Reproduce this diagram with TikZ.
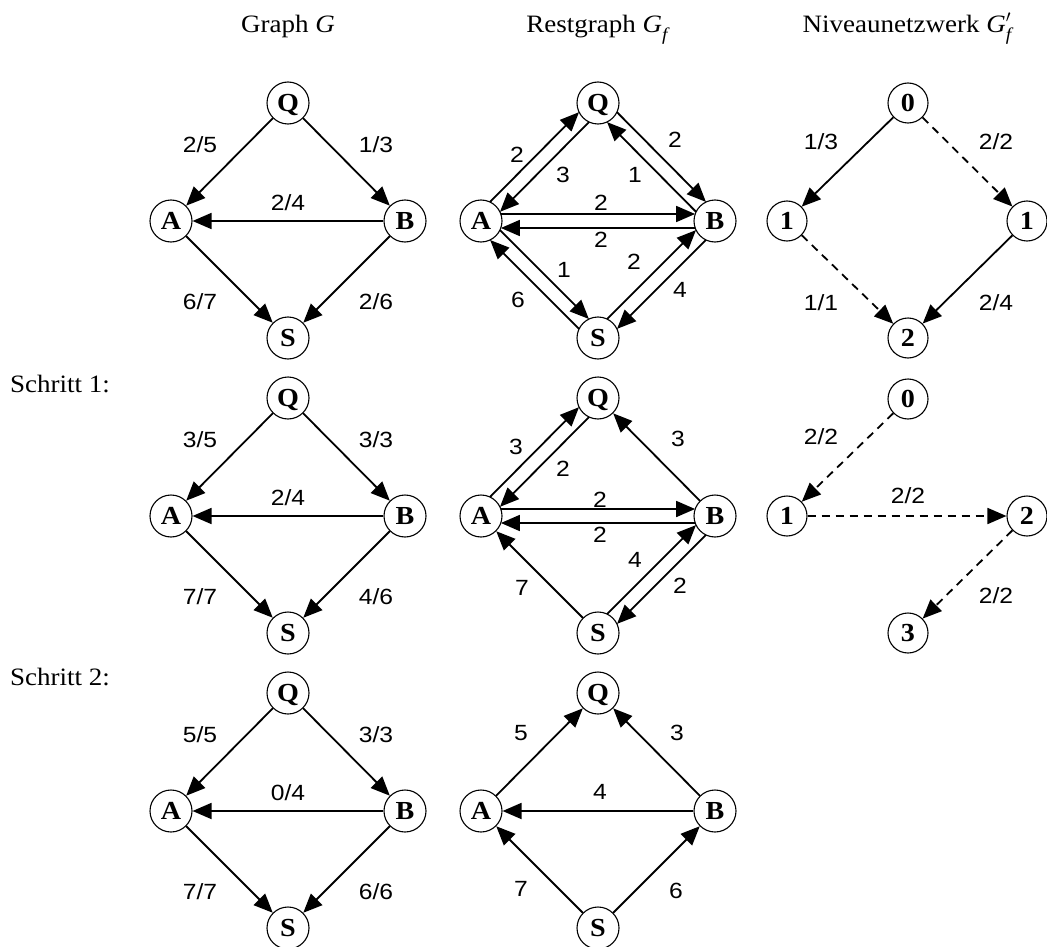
\documentclass[tikz,border=0pt]{standalone}
\usepackage{fontspec}
\setmainfont{Liberation Serif}
\newfontfamily\labfam{Liberation Sans}[FakeStretch=1.12]
\newfontfamily\ttlfam{Liberation Serif}[FakeStretch=1.08]
\newfontfamily\vtxfam{Liberation Serif}[FakeStretch=1.08]
\usetikzlibrary{arrows.meta,calc}

\tikzset{
  vtx/.style={circle, draw, line width=1.1pt, minimum size=42pt, inner sep=0pt,
    font=\vtxfam\bfseries\fontsize{26}{26}\selectfont, text height=17pt, text depth=0pt},
  nvx/.style={vtx, minimum size=40pt},
  lab/.style={inner sep=0pt, font=\labfam\fontsize{22}{22}\selectfont,
    text height=15.8pt, text depth=0pt},
  ttl/.style={inner sep=0pt, anchor=base, font=\ttlfam\fontsize{25}{25}\selectfont},
  edg/.style={line width=1.8pt, -{Triangle[length=19pt,width=16pt]}},
  dsh/.style={edg, dash pattern=on 8pt off 6pt},
  % one of two antiparallel arcs, shifted to the left of its direction
  par/.style={edg,
    to path={($(\tikztostart)!7pt!90:(\tikztotarget)$) -- ($(\tikztotarget)!7pt!-90:(\tikztostart)$)},
    shorten <=19.9pt, shorten >=19.9pt},
}

% flow network with flow/capacity labels
\newcommand\flowpanel[7]{%
  \begin{scope}[shift={(288,#2)}]
    \node[vtx] (#1Q) at (0,0) {Q};
    \node[vtx] (#1A) at (-117,118) {A};
    \node[vtx] (#1B) at (117,118) {B};
    \node[vtx] (#1S) at (0,235) {S};
    \draw[edg] (#1Q) -- (#1A);
    \draw[edg] (#1Q) -- (#1B);
    \draw[edg] (#1B) -- (#1A);
    \draw[edg] (#1A) -- (#1S);
    \draw[edg] (#1B) -- (#1S);
    \node[lab] (#1qa) at (-88,42) {#3};
    \node[lab] (#1qb) at (88,42) {#4};
    \node[lab] (#1ba) at (0,100) {#5};
    \node[lab] (#1as) at (-88,199) {#6};
    \node[lab] (#1bs) at (88,199) {#7};
  \end{scope}}

\newcommand\restnodes[2]{%
  \node[vtx] (#1Q) at (598,#2) {Q};
  \node[vtx] (#1A) at ($(598,#2)+(-117,118)$) {A};
  \node[vtx] (#1B) at ($(598,#2)+(117,118)$) {B};
  \node[vtx] (#1S) at ($(598,#2)+(0,235)$) {S};}

\begin{document}
\begin{tikzpicture}[x=1pt,y=-1pt]
\useasboundingbox (0,0) rectangle (1047,947);

% column headings
\node[ttl] (h1) at (288,33) {Graph \textit{G}};
\node[ttl] (h2) at (598,33) {Restgraph \textit{G}\raisebox{-0.3em}{\fontsize{18}{18}\selectfont\textit{f}}};
\node[ttl] (h3) at (908,33) {Niveaunetzwerk \textit{G}\rlap{\raisebox{0.05em}{$'$}}\raisebox{-0.3em}{\fontsize{18}{18}\selectfont\textit{f}}};

% step labels
\node[ttl, anchor=base west] (s1) at (10,392) {Schritt 1:};
\node[ttl, anchor=base west] (s2) at (10,685) {Schritt 2:};

% graph G
\flowpanel{ga}{103}{2/5}{1/3}{2/4}{6/7}{2/6}
\flowpanel{gb}{398}{3/5}{3/3}{2/4}{7/7}{4/6}
\flowpanel{gc}{693}{5/5}{3/3}{0/4}{7/7}{6/6}

% residual graph, start
\restnodes{ra}{103}
\draw[par] (raA) to (raQ);
\draw[par] (raQ) to (raA);
\draw[par] (raQ) to (raB);
\draw[par] (raB) to (raQ);
\draw[par] (raA) to (raB);
\draw[par] (raB) to (raA);
\draw[par] (raA) to (raS);
\draw[par] (raS) to (raA);
\draw[par] (raS) to (raB);
\draw[par] (raB) to (raS);
\begin{scope}[shift={(598,103)}]
  \node[lab] (ra1) at (-81,52) {2};
  \node[lab] (ra2) at (-35,72) {3};
  \node[lab] (ra3) at (77,37) {2};
  \node[lab] (ra4) at (37,72) {1};
  \node[lab] (ra5) at (3,100) {2};
  \node[lab] (ra6) at (3,137) {2};
  \node[lab] (ra7) at (-34,167) {1};
  \node[lab] (ra8) at (-80,197) {6};
  \node[lab] (ra9) at (36,159) {2};
  \node[lab] (ra10) at (82,187) {4};
\end{scope}

% residual graph after step 1
\restnodes{rb}{398}
\draw[par] (rbA) to (rbQ);
\draw[par] (rbQ) to (rbA);
\draw[edg] (rbB) -- (rbQ);
\draw[par] (rbA) to (rbB);
\draw[par] (rbB) to (rbA);
\draw[edg] (rbS) -- (rbA);
\draw[par] (rbS) to (rbB);
\draw[par] (rbB) to (rbS);
\begin{scope}[shift={(598,398)}]
  \node[lab] (rb1) at (-82,49) {3};
  \node[lab] (rb2) at (-35,71) {2};
  \node[lab] (rb3) at (80,41) {3};
  \node[lab] (rb4) at (2,102) {2};
  \node[lab] (rb5) at (2,137) {2};
  \node[lab] (rb6) at (-76,190) {7};
  \node[lab] (rb7) at (37,162) {4};
  \node[lab] (rb8) at (82,188) {2};
\end{scope}

% residual graph after step 2
\restnodes{rc}{693}
\draw[edg] (rcA) -- (rcQ);
\draw[edg] (rcB) -- (rcQ);
\draw[edg] (rcB) -- (rcA);
\draw[edg] (rcS) -- (rcA);
\draw[edg] (rcS) -- (rcB);
\begin{scope}[shift={(598,693)}]
  \node[lab] (rc1) at (-77,40) {5};
  \node[lab] (rc2) at (79,40) {3};
  \node[lab] (rc3) at (2,99) {4};
  \node[lab] (rc4) at (-77,196) {7};
  \node[lab] (rc5) at (78,198) {6};
\end{scope}

% level network, start
\node[nvx] (na0) at (908,103) {0};
\node[nvx] (na1) at (787,221) {1};
\node[nvx] (na2) at (1027,221) {1};
\node[nvx] (na3) at (908,338) {2};
\draw[edg] (na0) -- (na1);
\draw[dsh] (na0) -- (na2);
\draw[dsh] (na1) -- (na3);
\draw[edg] (na2) -- (na3);
\node[lab] (nal1) at (821,142) {1/3};
\node[lab] (nal2) at (996,142) {2/2};
\node[lab] (nal3) at (821,303) {1/1};
\node[lab] (nal4) at (996,303) {2/4};

% level network after step 1
\node[nvx] (nb0) at (908,399) {0};
\node[nvx] (nb1) at (787,516) {1};
\node[nvx] (nb2) at (1027,516) {2};
\node[nvx] (nb3) at (908,633) {3};
\draw[dsh] (nb0) -- (nb1);
\draw[dsh] (nb1) -- (nb2);
\draw[dsh] (nb2) -- (nb3);
\node[lab] (nbl1) at (821,437) {2/2};
\node[lab] (nbl2) at (908,496) {2/2};
\node[lab] (nbl3) at (996,596) {2/2};
\end{tikzpicture}
\end{document}
